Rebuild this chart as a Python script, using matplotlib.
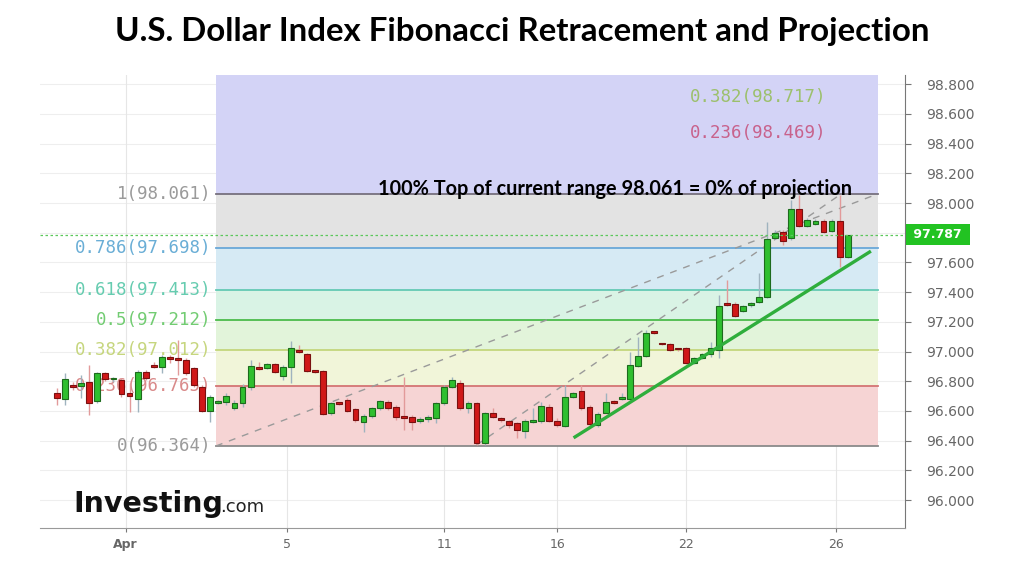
import matplotlib.pyplot as plt
import numpy as np

# 4h candles of the U.S. Dollar Index, April
opens = [96.721, 96.681, 96.775, 96.768, 96.795, 96.667, 96.856, 96.812, 96.808, 96.721,
         96.681, 96.862, 96.903, 96.896, 96.957, 96.957, 96.943, 96.889, 96.761, 96.600,
         96.654, 96.660, 96.620, 96.654, 96.761, 96.896, 96.889, 96.916, 96.835, 96.896,
         97.010, 96.984, 96.869, 96.869, 96.587, 96.654, 96.674, 96.613, 96.526, 96.566,
         96.620, 96.660, 96.627, 96.566, 96.560, 96.533, 96.546, 96.553, 96.654, 96.761,
         96.788, 96.620, 96.654, 96.384, 96.587, 96.553, 96.533, 96.519, 96.465, 96.526,
         96.533, 96.627, 96.533, 96.499, 96.694, 96.734, 96.627, 96.506, 96.587, 96.660,
         96.681, 96.681, 96.903, 96.970, 97.132, 97.051, 97.051, 97.017, 97.024, 96.923,
         96.957, 96.984, 97.010, 97.327, 97.320, 97.273, 97.314, 97.334, 97.367, 97.765,
         97.805, 97.765, 97.960, 97.846, 97.859, 97.879, 97.812, 97.879, 97.637]
highs = [96.755, 96.856, 96.795, 96.842, 96.910, 96.862, 96.862, 96.829, 96.822, 96.788,
         96.876, 96.876, 96.930, 96.977, 96.977, 97.078, 96.957, 96.896, 96.775, 96.707,
         96.674, 96.721, 96.674, 96.782, 96.943, 96.930, 96.923, 96.923, 96.910, 97.071,
         97.044, 96.990, 96.876, 96.876, 96.660, 96.660, 96.687, 96.620, 96.580, 96.627,
         96.674, 96.674, 96.640, 96.829, 96.573, 96.560, 96.573, 96.660, 96.775, 96.829,
         96.808, 96.667, 96.660, 96.593, 96.620, 96.560, 96.539, 96.526, 96.546, 96.620,
         96.660, 96.647, 96.553, 96.775, 96.728, 96.775, 96.640, 96.593, 96.721, 96.674,
         96.721, 96.997, 97.098, 97.145, 97.138, 97.058, 97.058, 97.024, 97.031, 96.963,
         96.990, 97.064, 97.381, 97.482, 97.334, 97.314, 97.334, 97.529, 97.872, 97.819,
         97.819, 98.021, 98.054, 97.899, 97.893, 97.893, 97.893, 98.054, 97.785]
lows = [96.640, 96.640, 96.741, 96.687, 96.573, 96.654, 96.802, 96.795, 96.694, 96.593,
        96.593, 96.808, 96.889, 96.856, 96.923, 96.842, 96.842, 96.761, 96.593, 96.526,
        96.647, 96.640, 96.607, 96.627, 96.741, 96.876, 96.883, 96.856, 96.808, 96.788,
        96.990, 96.862, 96.856, 96.573, 96.573, 96.640, 96.593, 96.526, 96.459, 96.553,
        96.607, 96.607, 96.539, 96.472, 96.472, 96.519, 96.526, 96.519, 96.640, 96.755,
        96.607, 96.587, 96.371, 96.371, 96.553, 96.526, 96.486, 96.418, 96.418, 96.519,
        96.519, 96.526, 96.492, 96.492, 96.687, 96.607, 96.499, 96.492, 96.587, 96.647,
        96.674, 96.674, 96.896, 96.963, 97.118, 97.044, 97.004, 97.004, 96.916, 96.916,
        96.950, 96.963, 96.957, 97.307, 97.233, 97.266, 97.300, 97.327, 97.361, 97.758,
        97.718, 97.751, 97.839, 97.839, 97.852, 97.798, 97.805, 97.569, 97.630]
closes = [96.687, 96.815, 96.761, 96.788, 96.654, 96.856, 96.815, 96.815, 96.714, 96.701,
          96.862, 96.822, 96.896, 96.963, 96.950, 96.943, 96.856, 96.775, 96.600, 96.694,
          96.660, 96.701, 96.654, 96.761, 96.903, 96.883, 96.916, 96.862, 96.896, 97.024,
          96.997, 96.869, 96.862, 96.580, 96.654, 96.650, 96.600, 96.539, 96.566, 96.620,
          96.667, 96.620, 96.560, 96.553, 96.526, 96.546, 96.560, 96.654, 96.761, 96.808,
          96.620, 96.654, 96.384, 96.587, 96.560, 96.539, 96.506, 96.472, 96.533, 96.533,
          96.634, 96.533, 96.506, 96.694, 96.721, 96.620, 96.513, 96.580, 96.660, 96.654,
          96.687, 96.910, 96.970, 97.125, 97.125, 97.048, 97.010, 97.014, 96.923, 96.957,
          96.984, 97.024, 97.307, 97.314, 97.239, 97.307, 97.327, 97.367, 97.758, 97.798,
          97.745, 97.960, 97.846, 97.886, 97.879, 97.805, 97.879, 97.637, 97.787]

tick_labels = ["Apr", "5", "11", "16", "22", "26"]
tick_bars = [8.5, 28.5, 48, 62, 78, 96.5]
price_ticks = [96.0, 96.2, 96.4, 96.6, 96.8, 97.0, 97.2, 97.4, 97.6, 98.0, 98.2, 98.4, 98.6, 98.8]

fib_ratios = ["0", "0.236", "0.382", "0.5", "0.618", "0.786", "1"]
fib_values = [96.364, 96.765, 97.012, 97.212, 97.413, 97.698, 98.061]
proj_ratios = ["0.236", "0.382"]
proj_values = [98.469, 98.717]
last_price = 97.787

# bar index span of the drawing tools
fib_span = (19.7, 101.7)
trend_pts = [(64.2, 96.425), (100.7, 97.670)]
swing_pts = [(52, 96.371), (97, 98.054)]

band_colors = ["#f6d4d4", "#f1f5d9", "#e2f4da", "#d9f3e5", "#d6eaf4", "#e3e3e3"]
line_colors = ["#8a8a8a", "#d47474", "#c4d67c", "#4cbb4c", "#64c9b4", "#6aa8d8", "#76707e"]
label_colors = ["#9a9a9a", "#d98a8a", "#c6d67e", "#72cc72", "#66ccb0", "#6aaed6", "#9a9a9a"]
proj_colors = ["#c8628c", "#9cc06c"]

fig = plt.figure(figsize=(10.24, 5.69), dpi=100)
ax = fig.add_axes([40 / 1024, 41 / 569, 865 / 1024, 453 / 569])
ylo, yhi = 95.812, 98.862
ax.set_xlim(-2.1, 105.1)
ax.set_ylim(ylo, yhi)

# grid
for lvl in np.arange(96.0, 98.81, 0.2):
    ax.axhline(lvl, color="#eeeeee", lw=0.8, zorder=0)
for tb in tick_bars:
    ax.axvline(tb, color="#e6e6e6", lw=0.8, zorder=0)

# fibonacci bands and lines
x0, x1 = fib_span
for k in range(len(fib_values) - 1):
    ax.fill_between([x0, x1], fib_values[k], fib_values[k + 1], color=band_colors[k], lw=0, zorder=1)
ax.fill_between([x0, x1], fib_values[-1], yhi, color="#d3d3f6", lw=0, zorder=1)
for k, v in enumerate(fib_values):
    ax.plot([x0, x1], [v, v], color=line_colors[k], lw=1.3, zorder=2)
    ax.text(x0 - 0.5, v, f"{fib_ratios[k]}({v:.3f})", color=label_colors[k], fontsize=12.5,
            family="DejaVu Sans Mono", ha="right", va="center", zorder=2)
for k, v in enumerate(proj_values):
    ax.text(78.4, v, f"{proj_ratios[k]}({v:.3f})", color=proj_colors[k], fontsize=12.5,
            family="DejaVu Sans Mono", ha="left", va="center", zorder=2)

# dashed guide lines
ax.plot([x0, x1], [fib_values[0], fib_values[-1]], color="#9a9a9a", lw=1, ls=(0, (5, 5)), zorder=3)
ax.plot([p[0] for p in swing_pts], [p[1] for p in swing_pts], color="#9a9a9a", lw=1,
        ls=(0, (5, 5)), zorder=3)

# candles
idx = np.arange(len(opens))
o = np.array(opens)
c = np.array(closes)
up = c >= o
wick_cols = np.where(up, "#9fb3bf", "#e29a9a")
ax.vlines(idx, lows, highs, colors=wick_cols, lw=1, zorder=4)
body_lo = np.minimum(o, c)
body_h = np.maximum(np.abs(c - o), 0.012)
ax.bar(idx[up], body_h[up], bottom=body_lo[up], width=0.72, color="#2fbf2f",
       edgecolor="#1d6b1d", lw=0.8, zorder=5)
ax.bar(idx[~up], body_h[~up], bottom=body_lo[~up], width=0.72, color="#d01818",
       edgecolor="#7a1010", lw=0.8, zorder=5)

# trend line and last price
ax.plot([p[0] for p in trend_pts], [p[1] for p in trend_pts], color="#2fae3c", lw=2.4, zorder=6)
ax.axhline(last_price, color="#5cc85c", lw=0.9, ls=(0, (2, 2)), zorder=6)
ax.text(1.005, last_price, f" {last_price:.3f} ", transform=ax.get_yaxis_transform(),
        color="white", fontsize=9, fontweight="bold", ha="left", va="center", zorder=7,
        bbox=dict(boxstyle="square,pad=0.3", fc="#22c322", ec="none"), clip_on=False)

ax.text(39.8, 98.095, "100% Top of current range 98.061 = 0% of projection", fontsize=14.3,
        fontweight="bold", family="Lato", color="black", ha="left", va="center", zorder=7)

# axes styling
for side in ["top", "left"]:
    ax.spines[side].set_visible(False)
ax.spines["right"].set_color("#777777")
ax.spines["bottom"].set_color("#999999")
ax.yaxis.tick_right()
ax.set_yticks(price_ticks)
ax.set_yticklabels([f"{v:.3f}" for v in price_ticks])
ax.tick_params(axis="y", colors="#777777", labelsize=10, length=4, pad=11)
ax.set_xticks(tick_bars)
ax.set_xticklabels(tick_labels)
ax.tick_params(axis="x", colors="#777777", labelsize=9, length=3, pad=4)
ax.get_xticklabels()[0].set_fontweight("bold")
for t in ax.get_yticklabels() + ax.get_xticklabels():
    t.set_color("#666666")

fig.text(73 / 1024, 1 - 512 / 569, "Investing", fontsize=20.5, fontweight="bold",
         ha="left", va="baseline", color="#111111")
fig.text(220 / 1024, 1 - 512 / 569, ".com", fontsize=13,
         ha="left", va="baseline", color="#222222")

fig.text(0.51, 1 - 32 / 569, "U.S. Dollar Index Fibonacci Retracement and Projection",
         fontsize=23.8, fontweight="bold", family="Lato", ha="center", va="center")

fig.savefig("out.png", dpi=100)
